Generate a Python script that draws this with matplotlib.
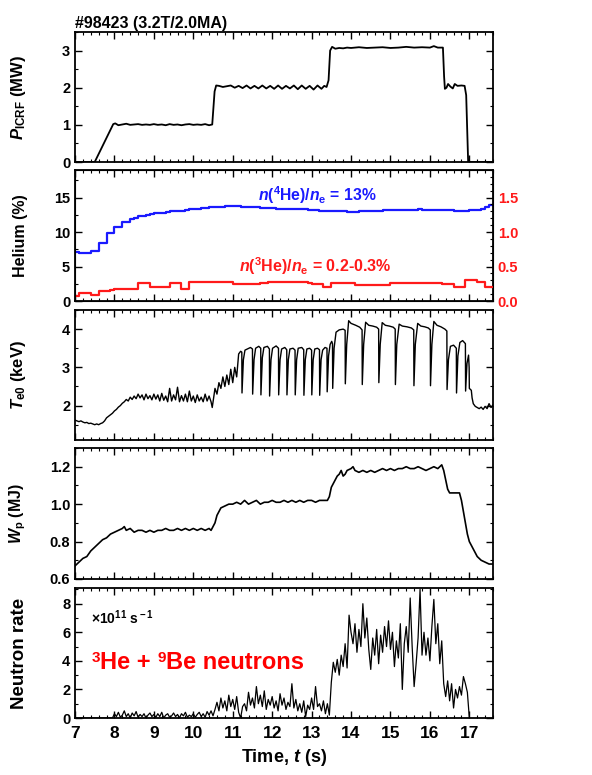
import numpy as np
import matplotlib
matplotlib.use("Agg")
import matplotlib.pyplot as plt
from matplotlib.ticker import MultipleLocator, FormatStrFormatter
from matplotlib import font_manager
from matplotlib.offsetbox import TextArea, HPacker, AnnotationBbox

plt.rcParams['font.family'] = ['Liberation Sans', 'DejaVu Sans']
plt.rcParams['font.weight'] = 'bold'
plt.rcParams['axes.labelweight'] = 'bold'
plt.rcParams['mathtext.fontset'] = 'custom'
plt.rcParams['mathtext.rm'] = 'Liberation Sans:bold'
plt.rcParams['mathtext.it'] = 'Liberation Sans:bold:italic'
plt.rcParams['mathtext.bf'] = 'Liberation Sans:bold'

# --- P_ICRF (MW)
p_t = [7.0, 7.5, 7.97, 8.02, 8.1, 8.2, 8.3, 8.4, 8.5, 8.6, 8.7, 8.8, 8.9, 9.0, 9.1, 9.2,
       9.3, 9.4, 9.5, 9.6, 9.7, 9.8, 9.9, 10.0, 10.1, 10.2, 10.3, 10.4, 10.48, 10.54, 10.58,
       10.65, 10.75, 10.85, 10.95, 11.05, 11.15, 11.25, 11.35, 11.45, 11.55, 11.65, 11.75,
       11.85, 11.95, 12.05, 12.15, 12.25, 12.35, 12.45, 12.55, 12.65, 12.75, 12.85, 12.95,
       13.05, 13.15, 13.25, 13.32, 13.38, 13.43, 13.47, 13.52, 13.6, 13.7, 13.8, 13.9, 14.0,
       14.2, 14.4, 14.6, 14.8, 15.0, 15.2, 15.4, 15.6, 15.8, 16.0, 16.1, 16.2, 16.33, 16.36,
       16.38, 16.42, 16.46, 16.52, 16.58, 16.63, 16.7, 16.8, 16.88, 16.92, 16.97, 17.6]
p_v = [0.0, 0.0, 1.02, 1.04, 0.99, 1.01, 1.03, 1.0, 1.01, 1.02, 1.0, 1.01, 1.0, 1.02, 1.0, 1.01,
       0.99, 1.02, 1.0, 1.01, 0.99, 1.01, 1.02, 1.0, 1.01, 1.0, 1.02, 0.99, 1.01, 1.9, 2.06,
       2.05, 2.02, 2.04, 2.06, 2.0, 2.05, 1.99, 2.06, 1.98, 2.05, 1.98, 2.06,
       1.98, 2.05, 1.97, 2.06, 1.97, 2.05, 1.98, 2.06, 1.96, 2.06, 1.97, 2.05,
       1.95, 2.06, 1.97, 2.05, 2.02, 2.2, 3.0, 3.1, 3.05, 3.07, 3.06, 3.08, 3.07,
       3.09, 3.07, 3.08, 3.09, 3.07, 3.08, 3.1, 3.08, 3.09, 3.08, 3.12, 3.08, 3.08, 2.3,
       1.97, 2.0, 2.1, 2.03, 1.98, 2.1, 2.05, 2.06, 2.05, 1.8, 0.0, 0.0]

# --- helium concentrations, 0.1 s steps from 7.0 s
he4 = [7.1, 6.9, 6.9, 6.9, 7.2, 7.2, 8.4, 8.4, 9.9, 9.9,
       10.8, 10.8, 11.4, 11.5, 11.9, 12.0, 12.3, 12.4, 12.5, 12.6,
       12.7, 12.8, 12.8, 12.9, 13.0, 13.0, 13.1, 13.1, 13.2, 13.3,
       13.3, 13.4, 13.5, 13.5, 13.6, 13.6, 13.7, 13.7, 13.8, 13.8,
       13.8, 13.8, 13.7, 13.7, 13.6, 13.6, 13.6, 13.5, 13.5, 13.5,
       13.5, 13.4, 13.4, 13.4, 13.3, 13.3, 13.3, 13.3, 13.3, 13.2,
       13.2, 13.2, 13.1, 13.1, 13.1, 13.1, 13.1, 13.0, 13.0, 12.9,
       12.9, 12.9, 13.0, 13.0, 13.1, 13.1, 13.1, 13.1, 13.2, 13.2,
       13.2, 13.2, 13.2, 13.2, 13.2, 13.2, 13.2, 13.3, 13.2, 13.2,
       13.2, 13.2, 13.2, 13.2, 13.2, 13.2, 13.1, 13.1, 13.1, 13.1,
       13.2, 13.2, 13.2, 13.3, 13.6, 13.9, 13.9]
he3 = [0.07, 0.12, 0.12, 0.12, 0.08, 0.08, 0.14, 0.14, 0.15, 0.16,
       0.17, 0.18, 0.18, 0.18, 0.18, 0.18, 0.26, 0.26, 0.26, 0.2,
       0.2, 0.2, 0.2, 0.2, 0.26, 0.26, 0.26, 0.17, 0.17, 0.27,
       0.27, 0.27, 0.27, 0.27, 0.28, 0.28, 0.28, 0.28, 0.28, 0.28,
       0.25, 0.25, 0.25, 0.25, 0.25, 0.25, 0.25, 0.26, 0.26, 0.27,
       0.27, 0.27, 0.27, 0.27, 0.27, 0.27, 0.27, 0.27, 0.27, 0.26,
       0.25, 0.24, 0.24, 0.2, 0.2, 0.26, 0.26, 0.26, 0.26, 0.26,
       0.26, 0.23, 0.23, 0.23, 0.23, 0.23, 0.23, 0.23, 0.23, 0.23,
       0.26, 0.26, 0.26, 0.26, 0.26, 0.26, 0.26, 0.26, 0.26, 0.26,
       0.26, 0.26, 0.26, 0.25, 0.24, 0.24, 0.2, 0.2, 0.2, 0.3,
       0.3, 0.3, 0.27, 0.27, 0.2, 0.2, 0.2]

# --- central electron temperature (keV)
te_t = [7.0, 7.05, 7.1, 7.15, 7.2, 7.25, 7.3, 7.35, 7.4, 7.45, 7.5, 7.55, 7.6, 7.65, 7.7,
        7.75, 7.8, 7.85, 7.9, 7.95, 8.0, 8.05, 8.1, 8.15, 8.2, 8.25, 8.3, 8.35, 8.4, 8.45,
        8.5, 8.55, 8.6, 8.65, 8.7, 8.75, 8.8, 8.85, 8.9, 8.95, 9.0, 9.05, 9.1, 9.15, 9.2,
        9.25, 9.3, 9.35, 9.4, 9.45, 9.5, 9.55, 9.6, 9.65, 9.7, 9.75, 9.8, 9.85, 9.9, 9.95,
        10.0, 10.05, 10.1, 10.15, 10.2, 10.25, 10.3, 10.35, 10.4, 10.45, 10.48, 10.55, 10.6,
        10.65, 10.7, 10.75, 10.8, 10.85, 10.9, 10.95, 11.0, 11.05, 11.1, 11.12, 11.15, 11.2,
        11.23, 11.235, 11.27, 11.31, 11.45, 11.5, 11.505, 11.54, 11.58, 11.66, 11.71,
        11.715, 11.75, 11.79, 11.88, 11.93, 11.935, 11.97, 12.01, 12.1, 12.16,
        12.165, 12.2, 12.24, 12.32, 12.37, 12.375, 12.41, 12.45, 12.53, 12.58,
        12.585, 12.62, 12.66, 12.75, 12.8, 12.805, 12.84, 12.88, 12.95, 13.0,
        13.005, 13.04, 13.08, 13.15, 13.2, 13.205, 13.24, 13.28, 13.34, 13.39,
        13.395, 13.43, 13.47, 13.51, 13.53, 13.535, 13.57, 13.62, 13.7, 13.8, 13.85,
        13.855, 13.89, 13.94, 14.0, 14.12, 14.22, 14.28,
        14.285, 14.32, 14.37, 14.45, 14.55, 14.65, 14.7,
        14.705, 14.74, 14.79, 14.87, 14.97, 15.07, 15.12,
        15.125, 15.16, 15.22, 15.3, 15.42, 15.53, 15.59,
        15.595, 15.63, 15.69, 15.77, 15.87, 15.96, 16.01,
        16.015, 16.05, 16.1, 16.18, 16.28, 16.38, 16.43,
        16.435, 16.47, 16.52, 16.6, 16.67, 16.675, 16.71, 16.76, 16.83, 16.9,
        16.905, 16.94, 16.98, 16.995, 17.0, 17.03, 17.05, 17.07, 17.1, 17.15, 17.2,
        17.25, 17.3, 17.35, 17.4, 17.45, 17.5, 17.55, 17.6]
te_v = [1.62, 1.6, 1.58, 1.6, 1.57, 1.55, 1.56, 1.53, 1.54, 1.52, 1.5, 1.52, 1.5, 1.53, 1.55,
        1.6, 1.68, 1.72, 1.76, 1.8, 1.86, 1.9, 1.96, 2.0, 2.06, 2.1, 2.16, 2.12, 2.22, 2.16,
        2.25, 2.18, 2.3, 2.2, 2.28, 2.15, 2.3, 2.18, 2.26, 2.15, 2.3, 2.17, 2.28, 2.12, 2.32,
        2.14, 2.25, 2.1, 2.45, 2.12, 2.28, 2.15, 2.48, 2.1, 2.26, 2.12, 2.3, 2.1, 2.38, 2.12,
        2.25, 2.08, 2.28, 2.12, 2.22, 2.1, 2.3, 2.12, 2.25, 2.1, 1.95, 2.45, 2.3,
        2.6, 2.45, 2.75, 2.5, 2.8, 2.55, 2.95, 2.6, 3.0, 2.75, 3.0, 3.35, 3.42,
        3.4, 2.33, 3.2, 3.45, 3.52, 3.48, 2.3, 3.2, 3.5, 3.55, 3.5,
        2.28, 3.25, 3.52, 3.55, 3.48, 2.25, 3.2, 3.5, 3.56, 3.5,
        2.28, 3.2, 3.48, 3.52, 3.46, 2.28, 3.2, 3.48, 3.5, 3.45,
        2.28, 3.2, 3.5, 3.52, 3.46, 2.27, 3.2, 3.48, 3.5, 3.45,
        2.28, 3.2, 3.48, 3.5, 3.46, 2.27, 3.2, 3.45, 3.52, 3.5,
        2.36, 3.3, 3.6, 3.68, 3.62, 2.45, 3.5, 3.92, 3.98, 4.0, 3.97,
        2.57, 3.6, 4.22, 4.15, 4.1, 4.05, 3.98,
        2.55, 3.6, 4.18, 4.1, 4.08, 4.05, 4.0,
        2.6, 3.6, 4.17, 4.1, 4.08, 4.05, 4.0,
        2.55, 3.6, 4.13, 4.08, 4.06, 4.03, 3.98,
        2.52, 3.6, 4.15, 4.08, 4.06, 4.03, 3.98,
        2.52, 3.6, 4.2, 4.1, 4.06, 4.0, 3.95,
        2.42, 3.2, 3.55, 3.58, 3.5, 2.33, 3.3, 3.65, 3.7, 3.62,
        2.38, 3.1, 3.32, 3.0, 2.45, 2.42, 2.4, 2.2, 2.05, 1.98, 1.95,
        1.92, 1.96, 1.9, 1.98, 1.92, 2.05, 1.95, 2.02]

# --- stored energy (MJ)
wp_t = [7.0, 7.1, 7.2, 7.3, 7.4, 7.5, 7.6, 7.7, 7.8, 7.9, 8.0, 8.1, 8.2, 8.25, 8.3, 8.4,
        8.5, 8.6, 8.7, 8.8, 8.9, 9.0, 9.1, 9.2, 9.3, 9.4, 9.5, 9.6, 9.7, 9.8, 9.9, 10.0,
        10.1, 10.2, 10.3, 10.4, 10.45, 10.5, 10.55, 10.6, 10.65, 10.7, 10.8, 10.9, 11.0,
        11.1, 11.2, 11.3, 11.4, 11.5, 11.6, 11.7, 11.8, 11.9, 12.0, 12.1, 12.2, 12.3, 12.4,
        12.5, 12.6, 12.7, 12.8, 12.9, 13.0, 13.1, 13.2, 13.3, 13.4, 13.45, 13.5, 13.55,
        13.6, 13.65, 13.7, 13.75, 13.8, 13.85, 13.9, 14.0, 14.05, 14.1, 14.2, 14.3, 14.4,
        14.5, 14.6, 14.7, 14.8, 14.9, 15.0, 15.1, 15.2, 15.3, 15.4, 15.5, 15.6, 15.7, 15.8,
        15.9, 16.0, 16.1, 16.2, 16.3, 16.35, 16.4, 16.45, 16.5, 16.6, 16.7, 16.75, 16.8,
        16.85, 16.9, 16.95, 17.0, 17.1, 17.2, 17.3, 17.4, 17.5, 17.6]
wp_v = [0.67, 0.69, 0.71, 0.72, 0.75, 0.77, 0.79, 0.81, 0.82, 0.84, 0.85, 0.86, 0.87, 0.88,
        0.86, 0.87, 0.85, 0.86, 0.86, 0.85, 0.86, 0.85, 0.86, 0.86, 0.87, 0.86, 0.86, 0.87,
        0.86, 0.87, 0.86, 0.87, 0.86, 0.87, 0.86, 0.87, 0.86, 0.88, 0.9, 0.94, 0.96, 0.98,
        0.99, 1.0, 1.0, 1.01, 1.0, 1.02, 1.0, 1.01, 1.02, 1.0, 1.01, 1.01, 1.02, 1.01, 1.01,
        1.02, 1.01, 1.02, 1.01, 1.02, 1.01, 1.02, 1.02, 1.01, 1.02, 1.02, 1.02, 1.04, 1.09,
        1.11, 1.13, 1.15, 1.16, 1.18, 1.15, 1.16, 1.18, 1.19, 1.2, 1.18, 1.17, 1.18, 1.17,
        1.18, 1.17, 1.18, 1.19, 1.18, 1.19, 1.18, 1.19, 1.19, 1.2, 1.19, 1.19, 1.2, 1.19,
        1.18, 1.19, 1.2, 1.19, 1.21, 1.18, 1.13, 1.08, 1.06, 1.06, 1.06, 1.06, 1.02,
        0.96, 0.9, 0.84, 0.8, 0.76, 0.72, 0.7, 0.69, 0.68, 0.68]

# --- neutron rate (1e11 /s), 0.05 s steps from 7.0 s
neutron = [0, 0, 0, 0, 0, 0, 0, 0, 0, 0, 0, 0, 0, 0, 0, 0, 0, 0, 0, 0,
           0.3, 0.1, 0.4, 0.05, 0.2, 0.5, 0.1, 0.3, 0.0, 0.35, 0.15, 0.45, 0.05, 0.25, 0.1, 0.3, 0.0, 0.2, 0.35, 0.1,
           0.25, 0.05, 0.3, 0.1, 0.4, 0.0, 0.2, 0.3, 0.05, 0.15, 0.35, 0.1, 0.25, 0.0, 0.3, 0.15, 0.4, 0.05, 0.2, 0.1,
           0.3, 0.05, 0.25, 0.4, 0.1, 0.3, 0.05, 0.45, 0.2, 0.5, 0.15, 0.6, 1.1, 0.5, 1.4, 0.7, 1.2, 0.5, 1.6, 0.8,
           1.3, 0.6, 1.5, 0.4, 0.0, 0.8, 1.0, 0.5, 1.8, 0.9, 1.4, 0.7, 2.2, 1.0, 1.6, 0.8, 1.9, 0.6, 1.3, 0.9,
           1.5, 0.7, 1.2, 0.5, 1.7, 0.9, 1.4, 0.6, 1.1, 0.8, 2.4, 0.7, 1.3, 0.5, 1.0, 0.4, 1.2, 0.1, 0.9, 0.6,
           1.4, 0.6, 2.2, 0.8, 1.0, 0.5, 1.2, 0.3, 1.0, 0.2, 2.5, 3.9, 3.2, 4.1, 3.0, 4.4, 3.6, 5.2, 3.5, 7.2,
           6.0, 5.2, 6.6, 4.6, 6.2, 5.0, 8.0, 5.6, 7.0, 4.8, 3.4, 5.6, 4.4, 6.2, 3.8, 5.8, 4.6, 6.4, 5.0, 6.8,
           4.8, 6.0, 3.6, 5.4, 4.2, 6.6, 2.0, 5.2, 6.4, 4.6, 8.4, 5.0, 2.2, 3.8, 5.6, 9.0, 4.4, 6.0, 4.4, 5.6,
           4.0, 6.4, 8.3, 5.2, 6.6, 3.8, 5.4, 2.4, 1.5, 2.6, 1.2, 2.4, 0.7, 2.0, 1.4, 2.2, 1.6, 2.9, 2.4, 1.8,
           0.0]

he_t = 7.0 + 0.1 * np.arange(len(he4))
n_t = 7.0 + 0.05 * np.arange(len(neutron))

# narrow face for the big red label, if there is one
try:
    font_manager.findfont('Liberation Sans Narrow', fallback_to_default=False)
    narrow, big, small = 'Liberation Sans Narrow', 20, 13
except Exception:
    narrow, big, small = 'Liberation Sans', 17, 11

fig = plt.figure(figsize=(5.92, 7.75), dpi=100)
W, H = 592.0, 775.0
left, right = 75, 493
panels = [(32, 162), (170, 301), (310, 440), (448, 579), (588, 718)]
axes = []
for top, bot in panels:
    ax = fig.add_axes([left / W, 1 - bot / H, (right - left) / W, (bot - top) / H])
    axes.append(ax)
ax1, ax2, ax3, ax4, ax5 = axes

ax1.plot(p_t, p_v, color='black', lw=1.3)
ax2.step(he_t, he4, where='post', color='#1a1aff', lw=1.6)
ax2r = ax2.twinx()
ax2r.step(he_t, he3, where='post', color='#ff1a1a', lw=1.6)
ax3.plot(te_t, te_v, color='black', lw=1.0)
ax4.plot(wp_t, wp_v, color='black', lw=1.2)
ax5.plot(n_t, neutron, color='black', lw=0.9)

ylims = [(0, 3.5), (0, 19), (1.1, 4.5), (0.6, 1.3), (0, 9.1)]
majors = [1, 5, 1, 0.2, 2]
minors = [0.5, 2.5, 0.5, 0.1, 1]
for ax, yl, mj, mn in zip(axes, ylims, majors, minors):
    ax.set_xlim(7, 17.6)
    ax.set_ylim(*yl)
    ax.xaxis.set_major_locator(MultipleLocator(1))
    ax.xaxis.set_minor_locator(MultipleLocator(0.2))
    ax.yaxis.set_major_locator(MultipleLocator(mj))
    ax.yaxis.set_minor_locator(MultipleLocator(mn))
    ax.tick_params(which='both', direction='in', top=True, right=True, labelsize=10.5)
    ax.tick_params(which='major', length=5, width=1)
    ax.tick_params(which='minor', length=2.5, width=0.8)
    for s in ax.spines.values():
        s.set_linewidth(1.3)
    if ax is not ax5:
        ax.tick_params(labelbottom=False)

ax2.tick_params(which='both', right=False)
ax2r.set_ylim(0, 1.9)
ax2r.yaxis.set_major_locator(MultipleLocator(0.5))
ax2r.yaxis.set_minor_locator(MultipleLocator(0.1))
ax2r.yaxis.set_major_formatter(FormatStrFormatter('%.1f'))
ax2r.tick_params(which='both', direction='in', labelsize=10.5, labelcolor='#ff1a1a')
ax2r.tick_params(which='major', length=5, width=1)
ax2r.tick_params(which='minor', length=2.5, width=0.8)
ax2.yaxis.set_major_formatter(FormatStrFormatter('%d'))
ax4.yaxis.set_major_formatter(FormatStrFormatter('%.1f'))

ax5.tick_params(axis='x', labelsize=12.5, pad=6)

ax1.set_title('#98423 (3.2T/2.0MA)', loc='left', fontsize=11.5, fontweight='bold', pad=3)
ax1.set_ylabel(r'$P_{\rm ICRF}$ (MW)', fontsize=12)
ax2.set_ylabel('Helium (%)', fontsize=11.5)
ax3.set_ylabel(r'$T_{\rm e0}$ (keV)', fontsize=12)
ax4.set_ylabel(r'$W_{\rm p}$ (MJ)', fontsize=11.5)
ax5.set_ylabel('Neutron rate', fontsize=13.5)
ax5.set_xlabel(r'Time, $t$ (s)', fontsize=13)
for ax in axes:
    ax.yaxis.set_label_coords(-0.113, 0.5)

ax2.text(13.15, 15.4, r'$n$($^{\rm 4}$He)/$n_{\rm e}$ = 13%', color='#1a1aff',
         fontsize=11.3, ha='center', va='center')
ax2.text(13.1, 5.1, r'$n$($^{\rm 3}$He)/$n_{\rm e}$ = 0.2-0.3%', color='#ff1a1a',
         fontsize=11.5, ha='center', va='center')

ax5.text(7.4, 7.0, r'$\times$10$^{\rm 11}$ s$^{\rm -1}$', fontsize=10, va='center')

red_parts = [('3', small), ('He + ', big), ('9', small), ('Be neutrons', big)]
boxes = [TextArea(s, textprops=dict(color='red', fontsize=fs, fontweight='bold',
                                    family=narrow)) for s, fs in red_parts]
label = HPacker(children=boxes, align='top', pad=0, sep=0)
ab = AnnotationBbox(label, (7.42, 3.9), xycoords='data', box_alignment=(0, 0.5),
                    frameon=False, pad=0)
ax5.add_artist(ab)

fig.savefig('out.png', dpi=100)
